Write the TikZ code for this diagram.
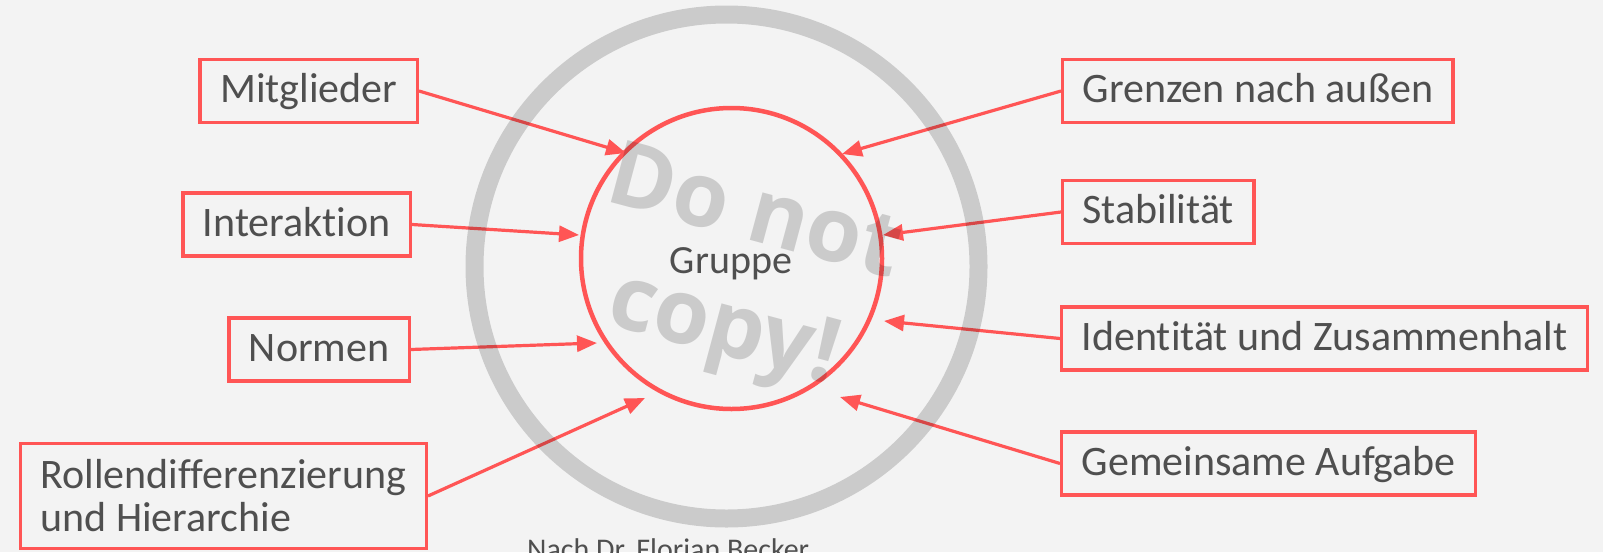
\documentclass[tikz,border=0pt]{standalone}
\usepackage{fontspec}
\setmainfont{Carlito}[Ligatures=NoCommon]
\newfontfamily\markfont{Open Sans}
\usetikzlibrary{arrows.meta}

\definecolor{boxred}{HTML}{FF5555}
\definecolor{txtgray}{HTML}{4F4F4F}
\definecolor{bggray}{HTML}{F3F3F3}

\begin{document}
\begin{tikzpicture}[x=1pt, y=-1pt,
    box/.style={draw=boxred, line width=3.4pt, inner xsep=20pt, inner ysep=0pt, text=txtgray, font=\fontsize{42}{43}\selectfont},
    oneline/.style={text height=43pt, text depth=20pt},
    arr/.style={draw=boxred, line width=3.2pt, -{Triangle[length=20pt,width=16pt]}}]
        % Hintergrund
        \fill[bggray] (0,0) rectangle (1603,552);
        \useasboundingbox (0,0) rectangle (1603,552);
        % Gruppe
        \node[circle, draw=boxred, line width=4.5pt, minimum size=301pt, inner sep=0pt] (grp) at (731.5,258.5) {};
        \node[anchor=base, text=txtgray, font=\fontsize{40}{48}\selectfont] (grptxt) at (731,273) {Gruppe};
        % Merkmale links
        \node[box, oneline, anchor=east] (mitglieder) at (419,91) {Mitglieder};
        \node[box, oneline, anchor=east] (interaktion) at (412,224.5) {Interaktion};
        \node[box, oneline, anchor=east] (normen) at (411,349.5) {Normen};
        \node[box, anchor=east, align=left, minimum height=105pt] (rollen) at (428,496) {Rollendifferenzierung\\und Hierarchie};
        % Merkmale rechts
        \node[box, oneline, anchor=west] (grenzen) at (1061,91) {Grenzen nach außen};
        \node[box, oneline, anchor=west] (stabil) at (1061,212) {Stabilität};
        \node[box, oneline, anchor=west] (ident) at (1060,338.5) {Identität und Zusammenhalt};
        \node[box, oneline, anchor=west] (aufgabe) at (1060,463.5) {Gemeinsame Aufgabe};
        % Pfeilspitzen am Kreis
        \coordinate (tMit) at (626,153);
        \coordinate (tInt) at (579,235);
        \coordinate (tNor) at (597,343);
        \coordinate (tRol) at (645,398);
        \coordinate (tGre) at (842,154);
        \coordinate (tSta) at (883,235);
        \coordinate (tIde) at (884,321);
        \coordinate (tAuf) at (840,397);
        % Pfeile
        \draw[arr] (mitglieder.east) -- (tMit);
        \draw[arr] (interaktion.east) -- (tInt);
        \draw[arr] (normen.east) -- (tNor);
        \draw[arr] (rollen.east) -- (tRol);
        \draw[arr] (grenzen.west) -- (tGre);
        \draw[arr] (stabil.west) -- (tSta);
        \draw[arr] (ident.west) -- (tIde);
        \draw[arr] (aufgabe.west) -- (tAuf);
        % Wasserzeichen
        \draw[black, opacity=0.16, line width=18pt] (726.5,266.5) circle[radius=252pt];
        \node[rotate=-15, align=center, text=black, text opacity=0.16, font=\markfont\bfseries\fontsize{90}{118}\selectfont] (mark) at (738,276) {Do not\\copy!};
        % Quelle
        \node[anchor=base west, inner sep=0pt, text=txtgray, font=\fontsize{30}{36}\selectfont] (quelle) at (527,559.5) {Nach Dr.~Florian Becker};
\end{tikzpicture}
\end{document}
